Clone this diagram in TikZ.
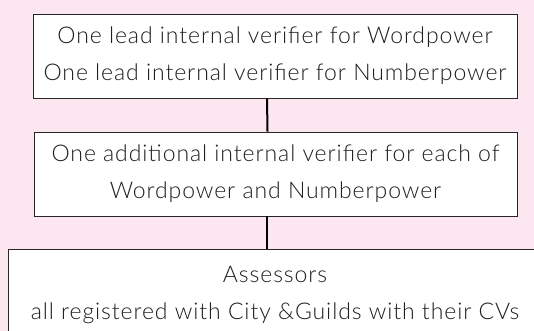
\documentclass[tikz,border=0pt]{standalone}
\usepackage{fontspec}
\setmainfont{Lato}[UprightFont=* Light, LetterSpace=4]
\definecolor{bgpink}{RGB}{252,231,240}
\definecolor{txtgray}{RGB}{30,30,30}
\tikzset{
  box/.style={draw=black!85, line width=0.8pt, fill=white, align=center,
    text=txtgray, font=\fontsize{23}{37}\selectfont, inner sep=0pt},
  link/.style={line width=2pt}
}
\begin{document}
\begin{tikzpicture}[x=1pt,y=-1pt]
  \useasboundingbox (0,0) rectangle (534,331);
  \fill[bgpink] (0,0) rectangle (534,331);
  \clip (0,0) rectangle (534,331);
  % the three levels
  \node[box, minimum width=484pt, minimum height=84pt] (lead) at (275,56)
    {One lead internal verifier for Wordpower\\One lead internal verifier for Numberpower};
  \node[box, minimum width=483pt, minimum height=84pt] (add) at (275.5,174)
    {One additional internal verifier for each of\\Wordpower and Numberpower};
  \node[box, minimum width=534pt, minimum height=92pt] (assess) at (275,295)
    {Assessors\\all registered with City \&Guilds with their CVs};
  % links
  \draw[link] ([xshift=-8pt]lead.south) -- ([xshift=-8pt]add.north);
  \draw[link] ([xshift=-8.5pt]add.south) -- ([xshift=-8pt]assess.north);
\end{tikzpicture}
\end{document}
